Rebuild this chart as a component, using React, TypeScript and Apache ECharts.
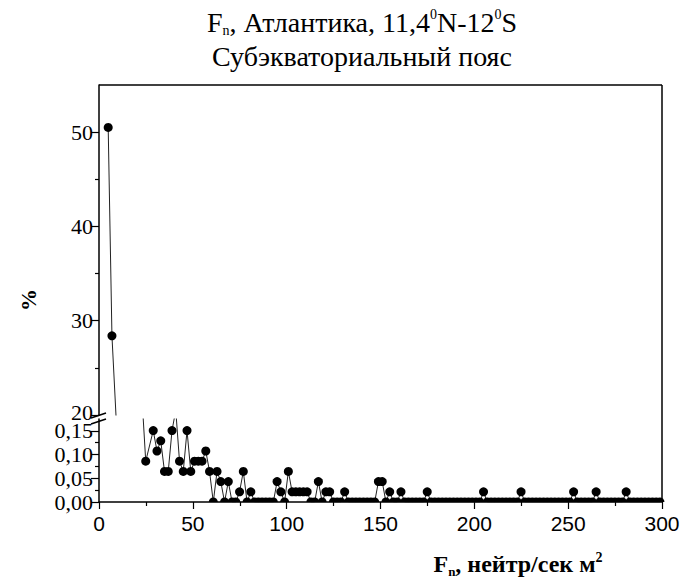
import React, { useEffect, useRef } from "react";
import * as echarts from "echarts";

// Flux bins (neutron flux, нейтр/сек м²) and share of observations (%)
const fluxBins = [
  4.9, 6.9, 10.9, 22.9, 24.9, 28.9, 30.9, 32.9, 34.9, 36.9,
  38.9, 40.9, 42.9, 44.9, 46.9, 48.9, 50.9, 52.9, 54.9, 56.9,
  58.9, 60.9, 62.9, 64.9, 66.9, 68.9, 70.9, 72.9, 74.9, 76.9,
  78.9, 80.9, 82.9, 84.9, 86.9, 88.9, 90.9, 92.9, 94.9, 96.9,
  98.9, 100.9, 102.9, 104.9, 106.9, 108.9, 110.9, 112.9, 114.9, 116.9,
  118.9, 120.9, 122.9, 124.9, 126.9, 128.9, 130.9, 132.9, 134.9, 136.9,
  138.9, 140.9, 142.9, 144.9, 146.9, 148.9, 150.9, 152.9, 154.9, 156.9,
  158.9, 160.9, 162.9, 164.9, 166.9, 168.9, 170.9, 172.9, 174.9, 176.9,
  178.9, 180.9, 182.9, 184.9, 186.9, 188.9, 190.9, 192.9, 194.9, 196.9,
  198.9, 200.9, 202.9, 204.9, 206.9, 208.9, 210.9, 212.9, 214.9, 216.9,
  218.9, 220.9, 222.9, 224.9, 226.9, 228.9, 230.9, 232.9, 234.9, 236.9,
  238.9, 240.9, 242.9, 244.9, 246.9, 248.9, 250.9, 252.9, 254.9, 256.9,
  258.9, 260.9, 262.9, 264.9, 266.9, 268.9, 270.9, 272.9, 274.9, 276.9,
  278.9, 280.9, 282.9, 284.9, 286.9, 288.9, 290.9, 292.9, 294.9, 296.9,
  298.9,
];

const percentShares = [
  50.5, 28.4, 12.7, 0.22, 0.086, 0.1505, 0.1075, 0.129, 0.0645, 0.0645,
  0.1505, 0.1935, 0.086, 0.0645, 0.1505, 0.0645, 0.086, 0.086, 0.086, 0.1075,
  0.0645, 0, 0.0645, 0.043, 0, 0.043, 0, 0, 0.0215, 0.0645,
  0, 0.0215, 0, 0, 0, 0, 0, 0, 0.043, 0.0215,
  0, 0.0645, 0.0215, 0.0215, 0.0215, 0.0215, 0.0215, 0, 0, 0.043,
  0, 0.0215, 0.0215, 0, 0, 0, 0.0215, 0, 0, 0,
  0, 0, 0, 0, 0, 0.043, 0.043, 0, 0.0215, 0,
  0, 0.0215, 0, 0, 0, 0, 0, 0, 0.0215, 0,
  0, 0, 0, 0, 0, 0, 0, 0, 0, 0,
  0, 0, 0, 0.0215, 0, 0, 0, 0, 0, 0,
  0, 0, 0, 0.0215, 0, 0, 0, 0, 0, 0,
  0, 0, 0, 0, 0, 0, 0, 0.0215, 0, 0,
  0, 0, 0, 0.0215, 0, 0, 0, 0, 0, 0,
  0, 0.0215, 0, 0, 0, 0, 0, 0, 0, 0,
  0,
];

const xTicks = [0, 50, 100, 150, 200, 250, 300];
const xMinorTicks = [25, 75, 125, 175, 225, 275];
const upperTicks = [20, 30, 40, 50];
const upperMinorTicks = [25, 35, 45];
const lowerTicks = [0, 0.05, 0.1, 0.15];
const lowerMinorTicks = [0.025, 0.075, 0.125];

const SERIF = "'Liberation Serif', 'Times New Roman', serif";
const SANS = "'Liberation Sans', Arial, sans-serif";

const L = 99;
const R = 662;
const TOP = 85;
const UPPER_H = 330;
const LOWER_TOP = 419;
const LOWER_H = 83;
const BOTTOM = LOWER_TOP + LOWER_H;

const HALF_DOT = "path://M0,10A10,10,0,0,1,20,10Z";

export default function App() {
  const ref = useRef<HTMLDivElement>(null);

  useEffect(() => {
    if (!ref.current) return;
    const chart = echarts.init(ref.current, undefined, { renderer: "svg" });

    const points = fluxBins.map((x, i) =>
      percentShares[i] === 0
        ? { value: [x, 0], symbol: HALF_DOT, symbolSize: [9, 4.5], symbolOffset: [0, -2.25] }
        : [x, percentShares[i]]
    );

    const axisLineStyle = { color: "#000", width: 1.5 };
    const tickStyle = { color: "#000", width: 1.2 };

    const seriesBase = {
      type: "line",
      data: points,
      symbol: "circle",
      symbolSize: 9,
      showAllSymbol: true,
      clip: true,
      itemStyle: { color: "#000" },
      lineStyle: { color: "#222", width: 1 },
    };

    const option: any = {
      animation: false,
      backgroundColor: "#fff",
      grid: [
        { left: L, top: TOP, width: R - L, height: UPPER_H, containLabel: false, outerBoundsMode: "none" },
        { left: L, top: LOWER_TOP, width: R - L, height: LOWER_H, containLabel: false, outerBoundsMode: "none" },
      ],
      xAxis: [
        { type: "value", gridIndex: 0, min: 0, max: 300, show: false },
        {
          type: "value",
          gridIndex: 1,
          min: 0,
          max: 300,
          interval: 50,
          position: "bottom",
          axisLine: { show: true, onZero: false, lineStyle: axisLineStyle },
          axisTick: { show: true, customValues: xTicks, length: 7, lineStyle: tickStyle },
          axisLabel: { customValues: xTicks, fontFamily: SANS, fontSize: 21, color: "#000", margin: 11 },
          splitLine: { show: false },
        },
        {
          type: "value",
          gridIndex: 1,
          min: 0,
          max: 300,
          interval: 50,
          position: "bottom",
          axisLine: { show: false, onZero: false },
          axisTick: { show: true, customValues: xMinorTicks, length: 4, lineStyle: tickStyle },
          axisLabel: { show: false },
          splitLine: { show: false },
        },
      ],
      yAxis: [
        {
          type: "value",
          gridIndex: 0,
          min: 20,
          max: 55,
          interval: 10,
          position: "left",
          axisLine: { show: true, onZero: false, lineStyle: axisLineStyle },
          axisTick: { show: true, customValues: upperTicks, length: 8, lineStyle: tickStyle },
          axisLabel: {
            customValues: upperTicks,
            fontFamily: SERIF,
            fontSize: 22,
            lineHeight: 16,
            color: "#000",
            margin: 6,
            formatter: (v: number) => (v === upperTicks[0] ? "{low|" + v + "}" : String(v)),
            rich: {
              low: { fontFamily: SERIF, fontSize: 22, lineHeight: 16, color: "#000", padding: [0, 0, 6, 0] },
            },
          },
          splitLine: { show: false },
        },
        {
          type: "value",
          gridIndex: 0,
          min: 20,
          max: 55,
          interval: 10,
          position: "left",
          axisLine: { show: false, onZero: false },
          axisTick: { show: true, customValues: upperMinorTicks, length: 4, lineStyle: tickStyle },
          axisLabel: { show: false },
          splitLine: { show: false },
        },
        {
          type: "value",
          gridIndex: 1,
          min: 0,
          max: 0.175,
          interval: 0.05,
          position: "left",
          axisLine: { show: true, onZero: false, lineStyle: axisLineStyle },
          axisTick: { show: true, customValues: lowerTicks, length: 8, lineStyle: tickStyle },
          axisLabel: {
            customValues: lowerTicks,
            fontFamily: SERIF,
            fontSize: 22,
            color: "#000",
            margin: 6,
            lineHeight: 16,
            formatter: (v: number) => v.toFixed(2).replace(".", ","),
          },
          splitLine: { show: false },
        },
        {
          type: "value",
          gridIndex: 1,
          min: 0,
          max: 0.175,
          interval: 0.05,
          position: "left",
          axisLine: { show: false, onZero: false },
          axisTick: { show: true, customValues: lowerMinorTicks, length: 4, lineStyle: tickStyle },
          axisLabel: { show: false },
          splitLine: { show: false },
        },
      ],
      series: [
        { ...seriesBase, xAxisIndex: 0, yAxisIndex: 0 },
        { ...seriesBase, xAxisIndex: 1, yAxisIndex: 2 },
      ],
      graphic: [
        // frame: top and right borders
        { type: "line", shape: { x1: L, y1: TOP, x2: R, y2: TOP }, style: { stroke: "#000", lineWidth: 1.5 } },
        { type: "line", shape: { x1: R, y1: TOP, x2: R, y2: BOTTOM }, style: { stroke: "#000", lineWidth: 1.5 } },
        // axis break marks
        { type: "line", shape: { x1: L - 8, y1: TOP + UPPER_H + 3, x2: L + 7, y2: TOP + UPPER_H - 2 }, style: { stroke: "#000", lineWidth: 1.5 } },
        { type: "line", shape: { x1: L - 8, y1: LOWER_TOP + 5, x2: L + 7, y2: LOWER_TOP }, style: { stroke: "#000", lineWidth: 1.5 } },
        // title
        {
          type: "text",
          x: 362,
          y: 22,
          style: {
            text: "{t|F}{sub|n}{t|, Атлантика, 11,4}{sup|0}{t|N-12}{sup|0}{t|S}",
            align: "center",
            verticalAlign: "middle",
            rich: {
              t: { fontFamily: SERIF, fontSize: 28, lineHeight: 30, fill: "#000", verticalAlign: "middle" },
              sub: { fontFamily: SERIF, fontSize: 14, lineHeight: 8, fill: "#000", verticalAlign: "bottom" },
              sup: { fontFamily: SERIF, fontSize: 14, lineHeight: 16, fill: "#000", verticalAlign: "top" },
            },
          },
        },
        {
          type: "text",
          x: 362,
          y: 56,
          style: {
            text: "Субэкваториальный пояс",
            align: "center",
            verticalAlign: "middle",
            fontFamily: SERIF,
            fontSize: 28,
            fill: "#000",
          },
        },
        // y axis name
        {
          type: "text",
          x: 28,
          y: 300,
          rotation: Math.PI / 2,
          style: {
            text: "%",
            align: "center",
            verticalAlign: "middle",
            fontFamily: SERIF,
            fontSize: 22,
            fontWeight: "bold",
            fill: "#000",
          },
        },
        // x axis name
        {
          type: "text",
          x: 518,
          y: 564,
          style: {
            text: "{t|F}{sub|n}{t|, нейтр/сек м}{sup|2}",
            align: "center",
            verticalAlign: "middle",
            rich: {
              t: { fontFamily: SERIF, fontSize: 24, fontWeight: "bold", lineHeight: 28, fill: "#000", verticalAlign: "middle" },
              sub: { fontFamily: SERIF, fontSize: 13, fontWeight: "bold", lineHeight: 8, fill: "#000", verticalAlign: "bottom" },
              sup: { fontFamily: SERIF, fontSize: 14, fontWeight: "bold", lineHeight: 14, fill: "#000", verticalAlign: "top" },
            },
          },
        },
      ],
    };

    chart.setOption(option);
    return () => chart.dispose();
  }, []);

  return (
    <div
      ref={ref}
      style={{ position: "fixed", left: 0, top: 0, width: 684, height: 587, background: "#fff" }}
    />
  );
}
